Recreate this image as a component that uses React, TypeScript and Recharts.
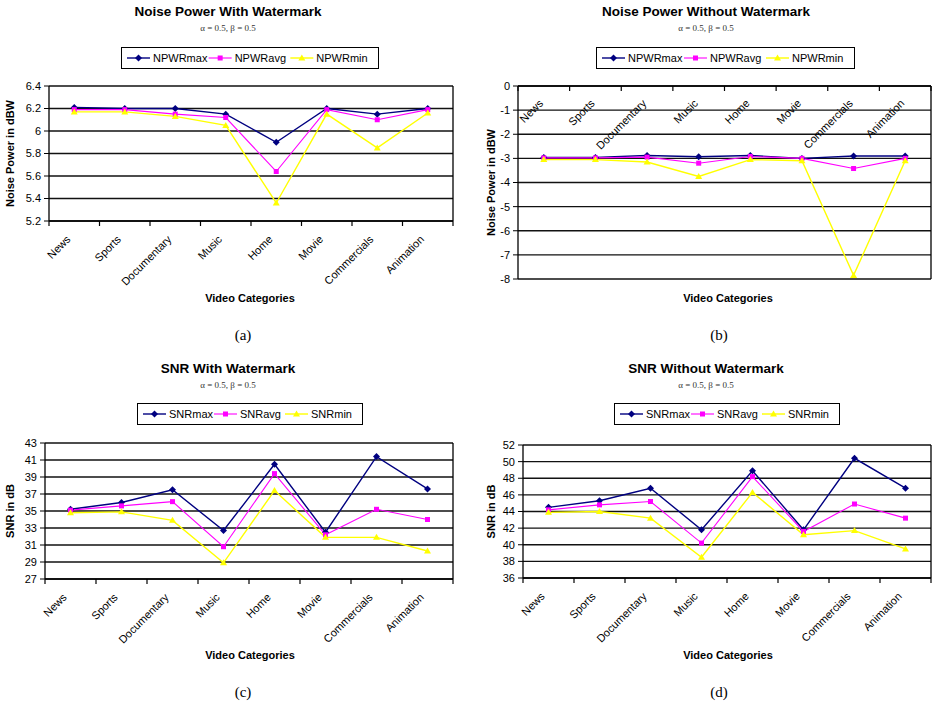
import { LineChart, Line, XAxis, YAxis, CartesianGrid, ReferenceLine } from 'recharts';

const categories = ['News', 'Sports', 'Documentary', 'Music', 'Home', 'Movie', 'Commercials', 'Animation'];

// (a) noise power with watermark
const npwrMaxWith = [6.21, 6.2, 6.2, 6.15, 5.9, 6.2, 6.15, 6.2];
const npwrAvgWith = [6.19, 6.19, 6.15, 6.12, 5.64, 6.19, 6.1, 6.19];
const npwrMinWith = [6.17, 6.17, 6.13, 6.05, 5.36, 6.15, 5.85, 6.16];
const npwrWithTicks = [5.2, 5.4, 5.6, 5.8, 6, 6.2, 6.4];

// (b) noise power without watermark
const npwrMaxWithout = [-2.96, -2.96, -2.88, -2.93, -2.88, -3.0, -2.9, -2.9];
const npwrAvgWithout = [-2.98, -2.98, -2.95, -3.2, -2.92, -3.0, -3.42, -3.0];
const npwrMinWithout = [-3.05, -3.05, -3.15, -3.75, -3.05, -3.1, -7.85, -3.1];
const npwrWithoutTicks = [-8, -7, -6, -5, -4, -3, -2, -1, 0];

// (c) SNR with watermark
const snrMaxWith = [35.2, 36.0, 37.5, 32.7, 40.5, 32.5, 41.4, 37.6];
const snrAvgWith = [35.1, 35.6, 36.1, 30.8, 39.4, 32.2, 35.2, 34.0];
const snrMinWith = [34.8, 34.9, 33.9, 28.9, 37.4, 31.9, 31.9, 30.3];
const snrWithTicks = [27, 29, 31, 33, 35, 37, 39, 41, 43];

// (d) SNR without watermark
const snrMaxWithout = [44.5, 45.3, 46.8, 41.8, 48.9, 41.8, 50.4, 46.8];
const snrAvgWithout = [44.2, 44.8, 45.2, 40.2, 48.2, 41.6, 44.9, 43.2];
const snrMinWithout = [43.9, 44.0, 43.2, 38.5, 46.3, 41.2, 41.7, 39.5];
const snrWithoutTicks = [36, 38, 40, 42, 44, 46, 48, 50, 52];

const npwrNames = ['NPWRmax', 'NPWRavg', 'NPWRmin'];
const snrNames = ['SNRmax', 'SNRavg', 'SNRmin'];

const FONT = '"Liberation Sans", Arial, sans-serif';
const SERIF = '"Liberation Serif", "Times New Roman", serif';

const seriesStyle = [
  { key: 'max', color: '#000080', width: 1.4, shape: 'diamond' },
  { key: 'avg', color: '#ff00ff', width: 1.1, shape: 'square' },
  { key: 'min', color: '#ffff00', width: 1.4, shape: 'triangle' },
];

function buildRows(max: number[], avg: number[], min: number[]) {
  return categories.map((name, i) => ({ name, pos: i + 0.5, max: max[i], avg: avg[i], min: min[i] }));
}

const xTicks = Array.from({ length: categories.length * 2 + 1 }, (_, i) => i / 2);

function Marker({ cx, cy, shape, color }: { cx: number; cy: number; shape: string; color: string }) {
  if (cx == null || cy == null) return null;
  if (shape === 'diamond') {
    return <polygon points={`${cx},${cy - 3.5} ${cx + 3.5},${cy} ${cx},${cy + 3.5} ${cx - 3.5},${cy}`} fill={color} />;
  }
  if (shape === 'square') {
    return <rect x={cx - 2.5} y={cy - 2.5} width={5} height={5} fill={color} />;
  }
  return <polygon points={`${cx},${cy - 3.5} ${cx + 3.5},${cy + 2.5} ${cx - 3.5},${cy + 2.5}`} fill={color} />;
}

// ticks sit on category boundaries, labels in the middle of each category
function CategoryTick(props: any) {
  const { x, y, payload, shiftX, shiftY } = props;
  const v = payload.value;
  if (Number.isInteger(v)) {
    return <line x1={x} x2={x} y1={y} y2={y + 5} stroke="#000" strokeWidth={1.2} />;
  }
  const label = categories[Math.floor(v)];
  return (
    <g transform={`translate(${x + shiftX}, ${y + shiftY}) rotate(-45)`}>
      <text x={0} y={0} textAnchor="end" fontSize={11} fontFamily={FONT} fill="#000">
        {label}
      </text>
    </g>
  );
}

function LegendBox({ names, left, top, width }: { names: string[]; left: number; top: number; width: number }) {
  const pad = 6;
  const itemW = (width - pad * 2) / 3;
  return (
    <svg style={{ position: 'absolute', left, top }} width={width + 1} height={23}>
      <rect x={0.5} y={0.5} width={width} height={21} fill="#fff" stroke="#000" strokeWidth={1} />
      {names.map((n, i) => {
        const s = seriesStyle[i];
        const x0 = pad + i * itemW;
        return (
          <g key={n}>
            <line x1={x0} x2={x0 + 23} y1={11} y2={11} stroke={s.color} strokeWidth={s.width} />
            <Marker cx={x0 + 11.5} cy={11} shape={s.shape} color={s.color} />
            <text x={x0 + 26} y={15} fontSize={11} fontFamily={FONT} fill="#000">
              {n}
            </text>
          </g>
        );
      })}
    </svg>
  );
}

interface PanelProps {
  left: number;
  top: number;
  title: string;
  yLabel: string;
  caption: string;
  names: string[];
  rows: any[];
  yTicks: number[];
  axisTop?: boolean;
  plot: { l: number; r: number; t: number; b: number };
  titleX: number;
  footX: number;
  captionX: number;
  legend: { l: number; w: number; t: number };
  yLabelX: number;
  shift: [number, number];
}

const W = 466;
const H = 357;

function Panel(p: PanelProps) {
  const domain: [number, number] = [p.yTicks[0], p.yTicks[p.yTicks.length - 1]];
  const textCenter = (cx: number, cy: number, lh: number) => ({
    position: 'absolute' as const,
    left: cx - 200,
    width: 400,
    top: cy - lh / 2,
    lineHeight: `${lh}px`,
    height: lh,
    textAlign: 'center' as const,
    whiteSpace: 'nowrap' as const,
  });
  return (
    <div style={{ position: 'absolute', left: p.left, top: p.top, width: W, height: H }}>
      <div style={{ ...textCenter(p.titleX, 12, 16), fontFamily: FONT, fontWeight: 'bold', fontSize: 13.5 }}>{p.title}</div>
      <div style={{ ...textCenter(p.titleX, 28, 10), fontFamily: SERIF, fontSize: 9, color: '#333' }}>α = 0.5, β = 0.5</div>
      <LegendBox names={p.names} left={p.legend.l} top={p.legend.t} width={p.legend.w} />
      <div style={{ position: 'absolute', left: 0, top: 0 }}>
        <LineChart
          width={W}
          height={H}
          data={p.rows}
          margin={{
            top: p.axisTop ? p.plot.t - 1 : p.plot.t,
            right: W - p.plot.r,
            left: 0,
            bottom: p.axisTop ? H - p.plot.b : H - p.plot.b - 1,
          }}
        >
          <CartesianGrid vertical={false} stroke="#111" strokeWidth={1.3} />
          <XAxis
            type="number"
            dataKey="pos"
            domain={[0, categories.length]}
            ticks={xTicks}
            interval={0}
            orientation={p.axisTop ? 'top' : 'bottom'}
            height={1}
            tickSize={0}
            tickMargin={0}
            tickLine={false}
            axisLine={{ stroke: '#000', strokeWidth: 1.3 }}
            tick={<CategoryTick shiftX={p.shift[0]} shiftY={p.shift[1]} />}
          />
          <YAxis
            type="number"
            domain={domain}
            ticks={p.yTicks}
            interval={0}
            width={p.plot.l}
            tickSize={5}
            tickMargin={3}
            axisLine={{ stroke: '#000', strokeWidth: 1.3 }}
            tickLine={{ stroke: '#000' }}
            tick={{ fontSize: 11, fill: '#000', fontFamily: FONT }}
            label={{
              content: (lp: any) => {
                const vb = lp.viewBox || { x: 0, y: p.plot.t, height: p.plot.b - p.plot.t };
                const cx = p.yLabelX;
                const cy = vb.y + vb.height / 2;
                return (
                  <text
                    x={cx}
                    y={cy}
                    transform={`rotate(-90 ${cx} ${cy})`}
                    textAnchor="middle"
                    dominantBaseline="central"
                    fontSize={11}
                    fontWeight="bold"
                    fontFamily={FONT}
                    fill="#000"
                  >
                    {p.yLabel}
                  </text>
                );
              },
            }}
          />
          <ReferenceLine x={categories.length} stroke="#000" strokeWidth={1.3} />
          {seriesStyle.map((s, i) => (
            <Line
              key={s.key}
              type="linear"
              dataKey={s.key}
              name={p.names[i]}
              stroke={s.color}
              strokeWidth={s.width}
              isAnimationActive={false}
              dot={(dp: any) => <Marker key={`${s.key}-${dp.index}`} cx={dp.cx} cy={dp.cy} shape={s.shape} color={s.color} />}
              activeDot={false}
            />
          ))}
        </LineChart>
      </div>
      <div style={{ ...textCenter(p.footX, 298, 14), fontFamily: FONT, fontWeight: 'bold', fontSize: 11 }}>Video Categories</div>
      <div style={{ ...textCenter(p.captionX, 335, 18), fontFamily: SERIF, fontSize: 15 }}>{p.caption}</div>
    </div>
  );
}

export default function App() {
  return (
    <div style={{ position: 'absolute', left: 0, top: 0, width: 932, height: 706, background: '#fff', overflow: 'hidden' }}>
      <Panel
        left={0}
        top={0}
        title="Noise Power With Watermark"
        yLabel="Noise Power in dBW"
        caption="(a)"
        names={npwrNames}
        rows={buildRows(npwrMaxWith, npwrAvgWith, npwrMinWith)}
        yTicks={npwrWithTicks}
        plot={{ l: 49, r: 453, t: 86, b: 221 }}
        titleX={228}
        footX={250}
        captionX={243}
        legend={{ l: 121, w: 257, t: 47 }}
        yLabelX={10}
        shift={[-3, 19]}
      />
      <Panel
        left={466}
        top={0}
        title="Noise Power Without Watermark"
        yLabel="Noise Power in dBW"
        caption="(b)"
        names={npwrNames}
        rows={buildRows(npwrMaxWithout, npwrAvgWithout, npwrMinWithout)}
        yTicks={npwrWithoutTicks}
        axisTop
        plot={{ l: 52, r: 465, t: 86, b: 279 }}
        titleX={240}
        footX={262}
        captionX={253}
        legend={{ l: 130, w: 258, t: 47 }}
        yLabelX={25}
        shift={[0, 18]}
      />
      <Panel
        left={0}
        top={357}
        title="SNR With Watermark"
        yLabel="SNR in dB"
        caption="(c)"
        names={snrNames}
        rows={buildRows(snrMaxWith, snrAvgWith, snrMinWith)}
        yTicks={snrWithTicks}
        plot={{ l: 45, r: 453, t: 86, b: 222 }}
        titleX={228}
        footX={250}
        captionX={243}
        legend={{ l: 137, w: 225, t: 46 }}
        yLabelX={10}
        shift={[-3, 19]}
      />
      <Panel
        left={466}
        top={357}
        title="SNR Without Watermark"
        yLabel="SNR in dB"
        caption="(d)"
        names={snrNames}
        rows={buildRows(snrMaxWithout, snrAvgWithout, snrMinWithout)}
        yTicks={snrWithoutTicks}
        plot={{ l: 57, r: 465, t: 88, b: 221 }}
        titleX={240}
        footX={262}
        captionX={253}
        legend={{ l: 148, w: 225, t: 46 }}
        yLabelX={25}
        shift={[-3, 19]}
      />
    </div>
  );
}
